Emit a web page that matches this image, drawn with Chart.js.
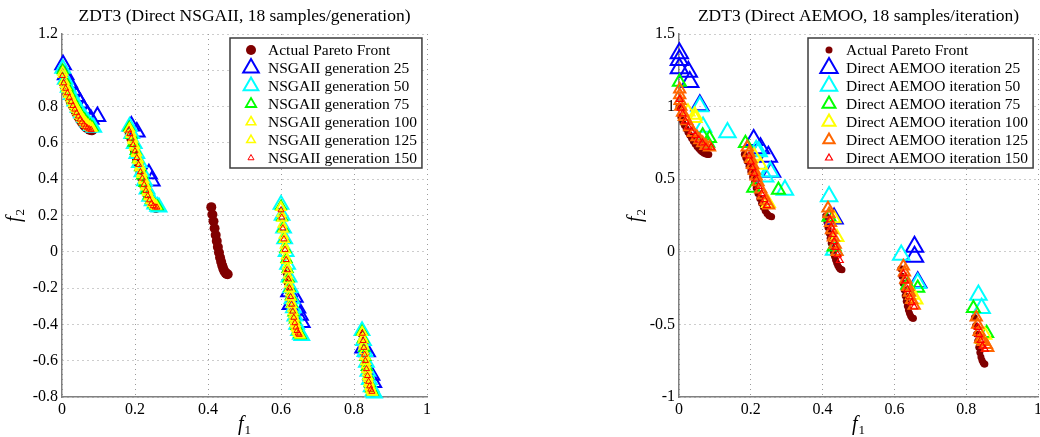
<!DOCTYPE html>
<html>
<head>
<meta charset="utf-8">
<title>ZDT3 Pareto fronts</title>
<script src="https://cdn.jsdelivr.net/npm/chart.js@4/dist/chart.umd.min.js"></script>
<style>
  html, body { margin: 0; padding: 0; background: #fff; overflow: hidden; }
  #wrap { position: relative; width: 1040px; height: 437px; overflow: hidden; }
  #leftBox { position: absolute; left: 0; top: 0; width: 520px; height: 437px; }
  #rightBox { position: absolute; left: 520px; top: 0; width: 530px; height: 437px; }
</style>
</head>
<body>
<div id="wrap">
  <div id="leftBox"><canvas id="nsga" width="520" height="437"></canvas></div>
  <div id="rightBox"><canvas id="aemoo" width="530" height="437"></canvas></div>
</div>
<script>
// ZDT3 front approximations: Direct NSGAII (left) vs Direct AEMOO (right).
// Values, [f1, f2] pairs.

const paretoFront = [
  [0, 1.0], [0.005, 0.928], [0.01, 0.897], [0.015, 0.871], [0.02, 0.847], [0.025, 0.824], [0.03, 0.803],
  [0.035, 0.782], [0.04, 0.762], [0.045, 0.743], [0.05, 0.726], [0.055, 0.711], [0.06, 0.698], [0.065, 0.687],
  [0.07, 0.679], [0.075, 0.673], [0.08, 0.670], [0.083, 0.670],
  [0.182, 0.671], [0.186, 0.648], [0.19, 0.623], [0.195, 0.589], [0.2, 0.553], [0.205, 0.515], [0.21, 0.477],
  [0.215, 0.439], [0.22, 0.402], [0.225, 0.367], [0.23, 0.334], [0.235, 0.306], [0.24, 0.282], [0.245, 0.263],
  [0.25, 0.25], [0.254, 0.244], [0.258, 0.242],
  [0.409, 0.246], [0.412, 0.206], [0.415, 0.168], [0.418, 0.130], [0.421, 0.093], [0.424, 0.059], [0.427, 0.026],
  [0.43, -0.004], [0.433, -0.031], [0.436, -0.055], [0.439, -0.076], [0.442, -0.093], [0.445, -0.107],
  [0.448, -0.116], [0.451, -0.122], [0.454, -0.124],
  [0.618, -0.117], [0.621, -0.169], [0.624, -0.217], [0.627, -0.262], [0.63, -0.303], [0.633, -0.340],
  [0.636, -0.373], [0.639, -0.401], [0.642, -0.423], [0.645, -0.440], [0.648, -0.452], [0.651, -0.457], [0.653, -0.458],
  [0.823, -0.452], [0.826, -0.510], [0.829, -0.566], [0.832, -0.614], [0.835, -0.658], [0.838, -0.694],
  [0.841, -0.724], [0.844, -0.747], [0.847, -0.763], [0.85, -0.772], [0.852, -0.773]
];

const nsgaLabels = ["Actual Pareto Front", "NSGAII generation 25", "NSGAII generation 50", "NSGAII generation 75",
  "NSGAII generation 100", "NSGAII generation 125", "NSGAII generation 150"];

const nsgaGen25 = [
  [0.003, 1.03], [0.01, 0.975], [0.02, 0.93], [0.03, 0.89], [0.04, 0.855], [0.05, 0.82], [0.06, 0.785],
  [0.07, 0.755], [0.079, 0.73], [0.097, 0.745],
  [0.19, 0.693], [0.205, 0.66], [0.238, 0.43], [0.246, 0.39],
  [0.622, -0.22], [0.626, -0.29], [0.638, -0.25], [0.645, -0.31], [0.652, -0.35], [0.657, -0.39],
  [0.825, -0.53], [0.836, -0.55], [0.848, -0.68], [0.853, -0.72]
];
const nsgaGen50 = [
  [0.002, 1.01], [0.009, 0.95], [0.017, 0.905], [0.026, 0.865], [0.035, 0.83], [0.044, 0.795], [0.053, 0.765],
  [0.062, 0.74], [0.071, 0.715], [0.08, 0.695], [0.087, 0.685],
  [0.185, 0.69], [0.191, 0.65], [0.198, 0.595], [0.205, 0.54], [0.212, 0.49], [0.219, 0.44], [0.226, 0.39],
  [0.233, 0.345], [0.24, 0.305], [0.247, 0.28], [0.254, 0.262], [0.262, 0.25], [0.266, 0.245],
  [0.6, 0.26], [0.603, 0.2], [0.607, 0.13], [0.61, 0.07], [0.614, 0.0], [0.618, -0.07], [0.622, -0.14],
  [0.626, -0.2], [0.63, -0.26], [0.634, -0.31], [0.638, -0.355], [0.643, -0.4], [0.648, -0.435],
  [0.653, -0.455], [0.657, -0.462],
  [0.822, -0.435], [0.826, -0.49], [0.83, -0.55], [0.834, -0.61], [0.838, -0.66], [0.842, -0.705],
  [0.847, -0.745], [0.852, -0.77], [0.856, -0.78]
];
const nsgaGen75 = [
  [0.002, 1.0], [0.008, 0.945], [0.015, 0.905], [0.022, 0.87], [0.03, 0.835], [0.038, 0.805], [0.046, 0.775],
  [0.054, 0.75], [0.062, 0.73], [0.07, 0.71], [0.078, 0.695], [0.084, 0.685],
  [0.184, 0.685], [0.19, 0.645], [0.196, 0.6], [0.202, 0.555], [0.208, 0.51], [0.214, 0.465], [0.22, 0.42],
  [0.226, 0.378], [0.232, 0.34], [0.238, 0.31], [0.244, 0.285], [0.25, 0.265], [0.256, 0.255], [0.262, 0.25],
  [0.6, 0.25], [0.603, 0.19], [0.606, 0.13], [0.609, 0.07], [0.612, 0.015], [0.615, -0.04], [0.618, -0.095],
  [0.621, -0.148], [0.624, -0.2], [0.627, -0.245], [0.63, -0.288], [0.634, -0.335], [0.638, -0.375],
  [0.642, -0.41], [0.646, -0.435], [0.65, -0.452], [0.654, -0.46],
  [0.822, -0.44], [0.825, -0.48], [0.828, -0.53], [0.831, -0.58], [0.835, -0.635], [0.839, -0.685],
  [0.843, -0.725], [0.847, -0.755], [0.851, -0.772]
];
const nsgaGen100 = [
  [0.002, 0.99], [0.006, 0.94], [0.011, 0.91], [0.017, 0.88], [0.023, 0.855], [0.029, 0.83], [0.035, 0.805],
  [0.041, 0.785], [0.047, 0.765], [0.053, 0.745], [0.059, 0.728], [0.065, 0.712], [0.071, 0.7], [0.077, 0.69],
  [0.082, 0.682],
  [0.185, 0.68], [0.189, 0.655], [0.194, 0.62], [0.199, 0.585], [0.204, 0.548], [0.209, 0.51], [0.214, 0.472],
  [0.219, 0.435], [0.224, 0.398], [0.229, 0.365], [0.234, 0.334], [0.239, 0.308], [0.244, 0.287], [0.249, 0.27],
  [0.254, 0.26], [0.259, 0.252],
  [0.6, 0.245], [0.603, 0.185], [0.606, 0.125], [0.609, 0.068], [0.612, 0.01], [0.615, -0.048], [0.618, -0.1],
  [0.621, -0.155], [0.624, -0.205], [0.627, -0.25], [0.63, -0.292], [0.633, -0.33], [0.636, -0.365],
  [0.639, -0.395], [0.642, -0.418], [0.645, -0.436], [0.648, -0.45], [0.652, -0.458],
  [0.823, -0.445], [0.825, -0.485], [0.827, -0.52], [0.83, -0.575], [0.832, -0.605], [0.835, -0.65],
  [0.838, -0.688], [0.841, -0.718], [0.844, -0.742], [0.847, -0.76], [0.85, -0.772]
];
const nsgaGen125 = [
  [0.002, 0.975], [0.007, 0.92], [0.012, 0.895], [0.018, 0.865], [0.024, 0.84], [0.03, 0.815], [0.036, 0.79],
  [0.042, 0.77], [0.048, 0.75], [0.054, 0.733], [0.06, 0.715], [0.066, 0.702], [0.072, 0.692], [0.078, 0.684],
  [0.083, 0.68],
  [0.184, 0.675], [0.188, 0.645], [0.193, 0.61], [0.198, 0.575], [0.203, 0.54], [0.208, 0.5], [0.213, 0.462],
  [0.218, 0.425], [0.223, 0.39], [0.228, 0.355], [0.233, 0.325], [0.238, 0.3], [0.243, 0.28], [0.248, 0.265],
  [0.253, 0.255], [0.258, 0.25],
  [0.599, 0.245], [0.601, 0.21], [0.604, 0.15], [0.607, 0.09], [0.61, 0.035], [0.613, -0.025], [0.616, -0.08],
  [0.619, -0.13], [0.622, -0.18], [0.625, -0.228], [0.628, -0.272], [0.631, -0.312], [0.634, -0.348],
  [0.637, -0.38], [0.64, -0.405], [0.643, -0.426], [0.646, -0.442], [0.649, -0.452], [0.652, -0.458],
  [0.822, -0.44], [0.824, -0.475], [0.826, -0.51], [0.828, -0.548], [0.83, -0.58], [0.833, -0.625],
  [0.836, -0.668], [0.839, -0.7], [0.842, -0.728], [0.845, -0.75], [0.848, -0.765], [0.851, -0.775]
];
const nsgaGen150 = [
  [0.001, 0.97], [0.005, 0.93], [0.01, 0.9], [0.015, 0.875], [0.02, 0.85], [0.025, 0.826], [0.03, 0.805],
  [0.035, 0.785], [0.04, 0.765], [0.045, 0.747], [0.05, 0.73], [0.055, 0.715], [0.06, 0.702], [0.065, 0.69],
  [0.07, 0.682], [0.075, 0.676], [0.08, 0.672],
  [0.183, 0.67], [0.186, 0.65], [0.19, 0.625], [0.195, 0.59], [0.2, 0.555], [0.205, 0.518], [0.21, 0.48],
  [0.215, 0.44], [0.22, 0.405], [0.225, 0.37], [0.23, 0.337], [0.235, 0.308], [0.24, 0.285], [0.245, 0.266],
  [0.25, 0.253], [0.255, 0.246], [0.26, 0.245],
  [0.6, 0.23], [0.602, 0.19], [0.605, 0.13], [0.608, 0.07], [0.611, 0.012], [0.614, -0.044], [0.617, -0.1],
  [0.62, -0.15], [0.623, -0.2], [0.626, -0.248], [0.629, -0.29], [0.632, -0.328], [0.635, -0.362],
  [0.638, -0.392], [0.641, -0.416], [0.644, -0.435], [0.647, -0.449], [0.65, -0.456],
  [0.823, -0.45], [0.825, -0.49], [0.827, -0.528], [0.829, -0.566], [0.831, -0.6], [0.834, -0.645],
  [0.837, -0.683], [0.84, -0.715], [0.843, -0.74], [0.846, -0.758], [0.849, -0.77]
];

const aemooLabels = ["Actual Pareto Front", "Direct AEMOO iteration 25", "Direct AEMOO iteration 50",
  "Direct AEMOO iteration 75", "Direct AEMOO iteration 100", "Direct AEMOO iteration 125", "Direct AEMOO iteration 150"];

const aemooIter25 = [
  [0.001, 1.367], [0.001, 1.321], [0.001, 1.264], [0.026, 1.24], [0.03, 1.17], [0.058, 1.01],
  [0.208, 0.77], [0.227, 0.713], [0.249, 0.655], [0.258, 0.552],
  [0.432, 0.23], [0.656, 0.035], [0.656, -0.034], [0.665, -0.21]
];
const aemooIter50 = [
  [0.058, 1.0], [0.067, 0.86], [0.135, 0.822], [0.215, 0.7], [0.222, 0.69], [0.24, 0.517], [0.254, 0.552],
  [0.295, 0.426], [0.418, 0.38], [0.432, 0.012], [0.619, -0.022], [0.665, -0.217], [0.834, -0.297], [0.843, -0.389]
];
const aemooIter75 = [
  [0.001, 1.17], [0.066, 0.8], [0.08, 0.75], [0.085, 0.782], [0.185, 0.747], [0.208, 0.44], [0.277, 0.426],
  [0.418, 0.24], [0.432, 0.035], [0.637, -0.229], [0.665, -0.25], [0.82, -0.389], [0.857, -0.561]
];
const aemooIter100 = [
  [0.025, 0.965], [0.044, 0.942], [0.045, 0.92], [0.21, 0.66], [0.227, 0.598], [0.249, 0.334],
  [0.432, 0.23], [0.44, 0.1], [0.651, -0.297], [0.66, -0.33], [0.845, -0.6], [0.852, -0.573]
];
const aemooIter125 = [
  [0.002, 1.12], [0.002, 1.08], [0.003, 1.04], [0.005, 1.0], [0.01, 0.96], [0.015, 0.93], [0.022, 0.9],
  [0.03, 0.86], [0.04, 0.82], [0.05, 0.79], [0.058, 0.77], [0.066, 0.75], [0.075, 0.73], [0.085, 0.72],
  [0.19, 0.72], [0.195, 0.68], [0.2, 0.64], [0.205, 0.6], [0.21, 0.56], [0.215, 0.52], [0.22, 0.48],
  [0.228, 0.43], [0.235, 0.39], [0.242, 0.35], [0.25, 0.32],
  [0.415, 0.3], [0.418, 0.26], [0.422, 0.2], [0.425, 0.15], [0.43, 0.1], [0.435, 0.05], [0.44, 0.0],
  [0.625, -0.1], [0.628, -0.14], [0.632, -0.19], [0.638, -0.24], [0.642, -0.28], [0.648, -0.33], [0.655, -0.37],
  [0.828, -0.45], [0.832, -0.5], [0.836, -0.55], [0.84, -0.6], [0.848, -0.62], [0.856, -0.64], [0.86, -0.66]
];
const aemooIter150 = [
  [0.002, 1.05], [0.005, 0.99], [0.01, 0.95], [0.018, 0.9], [0.026, 0.86], [0.035, 0.83], [0.045, 0.8],
  [0.055, 0.77], [0.065, 0.75], [0.075, 0.72], [0.09, 0.72],
  [0.195, 0.66], [0.2, 0.62], [0.205, 0.58], [0.21, 0.54], [0.215, 0.5], [0.222, 0.45], [0.23, 0.4],
  [0.238, 0.36], [0.245, 0.32],
  [0.42, 0.22], [0.424, 0.17], [0.428, 0.12], [0.432, 0.07], [0.436, 0.03], [0.442, -0.02], [0.448, -0.06],
  [0.625, -0.15], [0.63, -0.2], [0.636, -0.26], [0.642, -0.31], [0.648, -0.35], [0.655, -0.38],
  [0.832, -0.52], [0.836, -0.57], [0.84, -0.61], [0.845, -0.65], [0.852, -0.67]
];

const SERIF = '"Liberation Serif", "Times New Roman", serif';

function toXY(pairs) {
  return pairs.map(([x, y]) => ({ x, y }));
}

function fmtTick(v) {
  return String(Math.round(v * 10) / 10);
}

function frontSet(label, data, r) {
  return {
    label, data: toXY(data), order: 10, clip: false,
    pointStyle: "circle", pointRadius: r, pointBorderWidth: 0,
    pointBackgroundColor: "#800000", pointBorderColor: "#800000",
  };
}

function triSet(label, data, color, r, w, order) {
  return {
    label, data: toXY(data), order, clip: false,
    pointStyle: "triangle", pointRadius: r, pointBorderWidth: w,
    pointBackgroundColor: "rgba(0,0,0,0)", pointBorderColor: color,
  };
}

// draws one legend marker the same way the point elements look
function drawMarker(ctx, ds, x, y) {
  ctx.save();
  ctx.beginPath();
  const r = ds.pointRadius;
  if (ds.pointStyle === "circle") {
    ctx.arc(x, y, r, 0, Math.PI * 2);
    ctx.fillStyle = ds.pointBackgroundColor;
    ctx.fill();
  } else {
    const k = Math.PI * 2 / 3;
    ctx.moveTo(x, y - r);
    ctx.lineTo(x + Math.sin(k) * r, y - Math.cos(k) * r);
    ctx.lineTo(x + Math.sin(2 * k) * r, y - Math.cos(2 * k) * r);
    ctx.closePath();
    ctx.lineWidth = ds.pointBorderWidth;
    ctx.strokeStyle = ds.pointBorderColor;
    ctx.stroke();
  }
  ctx.restore();
}

function drawAxisName(ctx, sub, x, y, rotate) {
  ctx.save();
  ctx.translate(x, y);
  if (rotate) ctx.rotate(-Math.PI / 2);
  ctx.fillStyle = "#000";
  ctx.textBaseline = "alphabetic";
  ctx.textAlign = "left";
  ctx.font = `italic 20px ${SERIF}`;
  const wf = ctx.measureText("f").width;
  ctx.font = `13px ${SERIF}`;
  const ws = ctx.measureText(sub).width;
  const x0 = -(wf + ws + 1) / 2;
  ctx.font = `italic 20px ${SERIF}`;
  ctx.fillText("f", x0, 0);
  ctx.font = `13px ${SERIF}`;
  ctx.fillText(sub, x0 + wf + 1, 4);
  ctx.restore();
}

const matlabDecor = {
  id: "matlabDecor",
  afterDraw(chart, args, opts) {
    const { ctx, chartArea: a } = chart;
    const cx = (a.left + a.right) / 2;
    ctx.save();
    // title
    ctx.fillStyle = "#000";
    ctx.font = `17.5px ${SERIF}`;
    ctx.textAlign = "center";
    ctx.textBaseline = "alphabetic";
    ctx.fillText(opts.title, cx, 21);
    // axis names
    drawAxisName(ctx, "1", cx, 430, false);
    drawAxisName(ctx, "2", a.left - opts.yNameGap, (a.top + a.bottom) / 2, true);
    // legend box
    const sets = chart.data.datasets;
    ctx.font = `15.5px ${SERIF}`;
    const maxW = Math.max(...sets.map((d) => ctx.measureText(d.label).width));
    const w = 38 + maxW + 5;
    const h = 12 + (sets.length - 1) * 18 + 10;
    const left = Math.round(a.right - 5 - w);
    const top = a.top + 4;
    ctx.fillStyle = "#fff";
    ctx.fillRect(left, top, w, h);
    ctx.lineWidth = 1.5;
    ctx.strokeStyle = "#3c3c3c";
    ctx.strokeRect(left, top, w, h);
    sets.forEach((d, i) => {
      const y = top + 12 + i * 18;
      drawMarker(ctx, d, left + 21, y);
      ctx.fillStyle = "#000";
      ctx.textAlign = "left";
      ctx.textBaseline = "middle";
      ctx.fillText(d.label, left + 38, y + 1);
    });
    ctx.restore();
  },
};

function xAxis(min, max, step, height) {
  return {
    type: "linear", min, max,
    ticks: { stepSize: step, padding: 3, color: "#000", font: { family: SERIF, size: 16 }, maxRotation: 0, autoSkip: false, callback: fmtTick },
    grid: { color: "#9a9a9a", lineWidth: 1, drawTicks: false },
    border: { display: true, color: "#808080", width: 1.5, dash: [1, 4] },
    afterFit(s) { s.height = height; s.paddingLeft = 0; s.paddingRight = 0; },
  };
}

function yAxis(min, max, step, width, hide) {
  return {
    type: "linear", min, max,
    ticks: {
      stepSize: step, padding: 4, color: "#000", font: { family: SERIF, size: 16 }, autoSkip: false,
      callback: (v) => (hide.some((h) => Math.abs(h - v) < 1e-6) ? "" : fmtTick(v)),
    },
    grid: { color: "#9a9a9a", lineWidth: 1, drawTicks: false },
    border: { display: true, color: "#808080", width: 1.5, dash: [1, 4] },
    afterFit(s) { s.width = width; s.paddingTop = 0; s.paddingBottom = 0; },
  };
}

function baseOptions(padding, scales, decor) {
  return {
    responsive: false, animation: false, devicePixelRatio: 1, events: [],
    layout: { padding },
    scales,
    plugins: { legend: { display: false }, title: { display: false }, tooltip: { enabled: false }, matlabDecor: decor },
  };
}

new Chart(document.getElementById("nsga"), {
  type: "scatter",
  data: {
    datasets: [
      frontSet(nsgaLabels[0], paretoFront, 5),
      triSet(nsgaLabels[1], nsgaGen25, "#0000ff", 9, 2, 6),
      triSet(nsgaLabels[2], nsgaGen50, "#00ffff", 8.5, 2, 5),
      triSet(nsgaLabels[3], nsgaGen75, "#00ff00", 6, 1.8, 4),
      triSet(nsgaLabels[4], nsgaGen100, "#ffff00", 5.5, 1.6, 3),
      triSet(nsgaLabels[5], nsgaGen125, "#ffff00", 5, 1.5, 2),
      triSet(nsgaLabels[6], nsgaGen150, "#ff0000", 3.5, 1, 1),
    ],
  },
  options: baseOptions(
    { left: 0, top: 34, right: 93, bottom: 0 },
    { x: xAxis(0, 1, 0.2, 40), y: yAxis(-0.8, 1.2, 0.2, 62, [1]) },
    { title: "ZDT3 (Direct NSGAII, 18 samples/generation)", yNameGap: 42 }
  ),
  plugins: [matlabDecor],
});

new Chart(document.getElementById("aemoo"), {
  type: "scatter",
  data: {
    datasets: [
      frontSet(aemooLabels[0], paretoFront, 3.5),
      triSet(aemooLabels[1], aemooIter25, "#0000ff", 10, 2, 6),
      triSet(aemooLabels[2], aemooIter50, "#00ffff", 9.5, 2, 5),
      triSet(aemooLabels[3], aemooIter75, "#00ff00", 7.5, 2, 4),
      triSet(aemooLabels[4], aemooIter100, "#ffff00", 7.5, 2, 3),
      triSet(aemooLabels[5], aemooIter125, "#ff6600", 6.5, 2, 2),
      triSet(aemooLabels[6], aemooIter150, "#ff0000", 4, 1.2, 1),
    ],
  },
  options: baseOptions(
    { left: 0, top: 34, right: 6, bottom: 0 },
    { x: xAxis(0, 1, 0.2, 40), y: yAxis(-1, 1.5, 0.5, 159, []) },
    { title: "ZDT3 (Direct AEMOO, 18 samples/iteration)", yNameGap: 38 }
  ),
  plugins: [matlabDecor],
});
</script>
</body>
</html>
